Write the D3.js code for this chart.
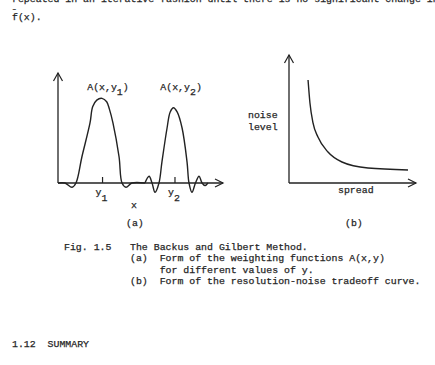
<!DOCTYPE html>
<html><head><meta charset="utf-8">
<script src="https://cdn.jsdelivr.net/npm/d3@7"></script>
<style>
html,body{margin:0;padding:0;background:#fff;}
svg{display:block;}
text{font-family:"Liberation Mono","Courier New",monospace;font-size:9.9px;fill:#262626;stroke:#262626;stroke-width:0.25px;}
</style></head>
<body>
<svg id="c" width="435" height="365"></svg>
<script>
// ---- data ----
// panel (a): weighting functions A(x,y1), A(x,y2)  [x, A]
const weightA1 = [[0,0],[0.42,0],[0.85,-0.05],[1.09,0],[1.45,0.31],[1.94,0.71],[2.1,0.9],[2.35,0.98],[2.67,1.0],[2.95,0.96],[3.12,0.87],[3.33,0.71],[3.70,0.31],[3.88,0],[4.12,-0.05],[4.48,0],[5.27,0]];
const weightA2 = [[5.27,0],[5.52,0.08],[5.70,0],[5.88,-0.11],[6.12,0],[6.30,0.25],[6.61,0.65],[6.8,0.84],[7.0,0.89],[7.22,0.84],[7.52,0.65],[7.82,0.25],[7.94,0],[8.12,-0.11],[8.33,0],[8.55,0.08],[8.73,0],[8.91,-0.03],[9.09,0]];
const yTicks = [{pos:2.7, sub:"1"},{pos:7.09, sub:"2"}];
const peakLabels = [{x:1.77, sub:"1"},{x:6.2, sub:"2"}];
// panel (b): tradeoff curve [spread, noise level]
const spread = [1.5,1.65,1.89,2.28,3.07,4.17,6.22,9.37];
const noise  = [8.05,6.25,4.69,3.59,2.42,1.64,1.17,1.02];
// text
const topLines = ["repeated in an iterative fashion until there is no significant change in","f(x)."];
const captionHead = "Fig. 1.5";
const captionLines = ["The Backus and Gilbert Method.","(a)  Form of the weighting functions A(x,y)","     for different values of y.","(b)  Form of the resolution-noise tradeoff curve."];
const sectionTitle = "1.12  SUMMARY";

const svg = d3.select("#c");
const ink = "#222";

function arrowHead(g, x, y, dir){
  let p;
  if(dir==="up") p=[[x-4.5,y+8],[x,y],[x+4.5,y+8]];
  else p=[[x-8,y-4],[x,y],[x-8,y+4]];
  g.append("path").attr("d", d3.line()(p)).attr("fill","none").attr("stroke",ink).attr("stroke-width",1.2);
}

// ---- panel (a) ----
const xA = d3.scaleLinear().domain([0,10]).range([58,223]);
const yA = d3.scaleLinear().domain([0,1.3]).range([183,73]);
const gA = svg.append("g");
gA.append("line").attr("x1",xA(0)).attr("x2",xA(0)).attr("y1",yA(0)).attr("y2",yA(1.3)).attr("stroke",ink).attr("stroke-width",1.3);
gA.append("line").attr("x1",xA(0)).attr("x2",xA(10)).attr("y1",yA(0)).attr("y2",yA(0)).attr("stroke",ink).attr("stroke-width",1.3);
arrowHead(gA, xA(0), yA(1.3), "up");
arrowHead(gA, xA(10), yA(0), "right");
const lineA = d3.line().x(d=>xA(d[0])).y(d=>yA(d[1])).curve(d3.curveCatmullRom.alpha(0.5));
[weightA1, weightA2].forEach(w=>{
  gA.append("path").attr("d", lineA(w)).attr("fill","none").attr("stroke",ink).attr("stroke-width",1.4);
});
yTicks.forEach(t=>{
  gA.append("line").attr("x1",xA(t.pos)).attr("x2",xA(t.pos)).attr("y1",yA(0)).attr("y2",yA(0)-6).attr("stroke",ink).attr("stroke-width",1.2);
  const tx = gA.append("text").attr("x",xA(t.pos)-7).attr("y",195);
  tx.append("tspan").text("y");
  tx.append("tspan").attr("dy",6).text(t.sub);
});
peakLabels.forEach(l=>{
  const tx = gA.append("text").attr("x",xA(l.x)).attr("y",90);
  tx.append("tspan").text("A(x,y");
  tx.append("tspan").attr("dy",5).text(l.sub);
  tx.append("tspan").attr("dy",-5).text(")");
});
gA.append("text").attr("x",131).attr("y",208).text("x");
gA.append("text").attr("x",126).attr("y",226).text("(a)");

// ---- panel (b) ----
const xB = d3.scaleLinear().domain([0,10]).range([289,416]);
const yB = d3.scaleLinear().domain([0,10]).range([183,55]);
const gB = svg.append("g");
gB.append("line").attr("x1",xB(0)).attr("x2",xB(0)).attr("y1",yB(0)).attr("y2",yB(10)).attr("stroke",ink).attr("stroke-width",1.3);
gB.append("line").attr("x1",xB(0)).attr("x2",xB(10)).attr("y1",yB(0)).attr("y2",yB(0)).attr("stroke",ink).attr("stroke-width",1.3);
arrowHead(gB, xB(0), yB(10), "up");
arrowHead(gB, xB(10), yB(0), "right");
const lineB = d3.line().x((d,i)=>xB(spread[i])).y((d,i)=>yB(noise[i])).curve(d3.curveMonotoneX);
gB.append("path").attr("d", lineB(spread)).attr("fill","none").attr("stroke",ink).attr("stroke-width",1.4);
gB.append("text").attr("x",248).attr("y",118).text("noise");
gB.append("text").attr("x",248).attr("y",130).text("level");
gB.append("text").attr("x",338).attr("y",193).text("spread");
gB.append("text").attr("x",345).attr("y",226).text("(b)");

// ---- page text ----
svg.append("text").attr("x",12).attr("y",2).text(topLines[0]);
svg.append("text").attr("x",12).attr("y",20).text(topLines[1]);
svg.append("text").attr("x",12.5).attr("y",11).text("~").style("font-size","6px").style("stroke-width","0.15px");
svg.append("text").attr("x",64).attr("y",250).text(captionHead);
captionLines.forEach((s,i)=>{
  svg.append("text").attr("x",130).attr("y",250+i*11.3).style("white-space","pre").text(s);
});
svg.append("text").attr("x",12).attr("y",347).style("white-space","pre").text(sectionTitle);
</script>
</body></html>
